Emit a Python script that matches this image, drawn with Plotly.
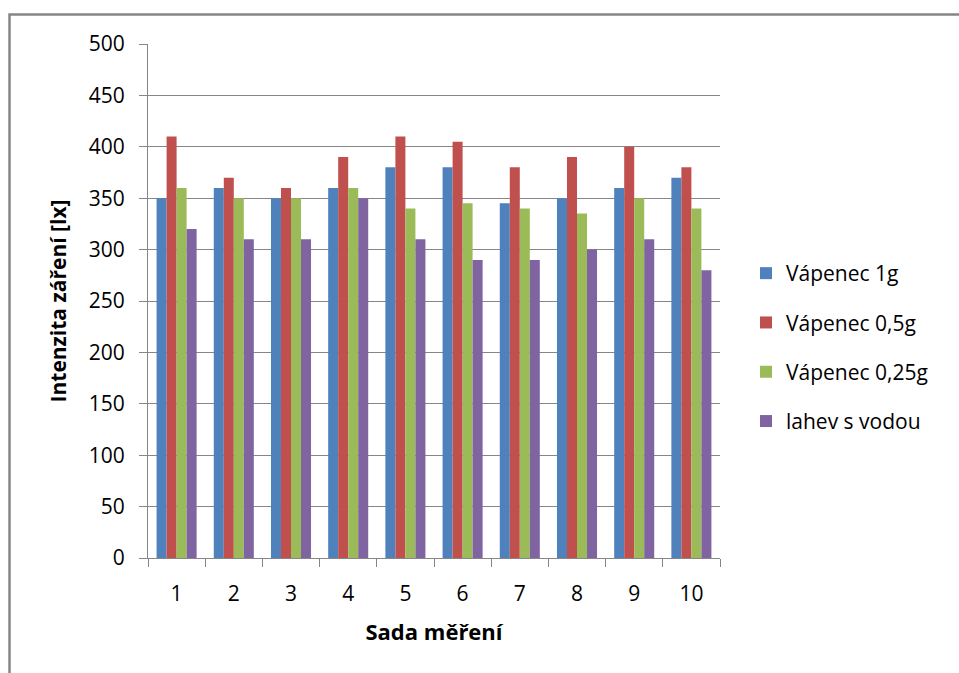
import plotly.graph_objects as go

categories = ["1", "2", "3", "4", "5", "6", "7", "8", "9", "10"]
vapenec_1g = [350, 360, 350, 360, 380, 380, 345, 350, 360, 370]
vapenec_05g = [410, 370, 360, 390, 410, 405, 380, 390, 400, 380]
vapenec_025g = [360, 350, 350, 360, 340, 345, 340, 335, 350, 340]
lahev_s_vodou = [320, 310, 310, 350, 310, 290, 290, 300, 310, 280]

series_names = ["Vápenec 1g", "Vápenec 0,5g", "Vápenec 0,25g", "lahev s vodou"]
series_values = [vapenec_1g, vapenec_05g, vapenec_025g, lahev_s_vodou]
colors = ["#4F81BD", "#C0504D", "#9BBB59", "#8064A2"]

FONT = "Open Sans"
GRID = "#868686"

fig = go.Figure()
for name, vals, col in zip(series_names, series_values, colors):
    fig.add_trace(go.Bar(
        x=categories, y=vals, name=name, legendgroup=name,
        marker=dict(color=col, line=dict(width=0)),
    ))

W, H = 959, 673
L, R, T, B = 148, 720, 44, 558
pw, ph = R - L, B - T

def px_x(x):
    return (x - L) / pw

def px_y(y):
    return (B - y) / ph

fig.update_layout(
    width=W, height=H,
    margin=dict(l=L, r=W - R, t=T, b=H - B, pad=0),
    paper_bgcolor="white", plot_bgcolor="white",
    barmode="group", bargap=0.3, bargroupgap=0,
    font=dict(family=FONT, size=21, color="black"),
    showlegend=True,
    legend=dict(
        x=px_x(746), y=px_y(253), xanchor="left", yanchor="top",
        font=dict(family=FONT, size=21, color="black"),
        tracegroupgap=19, bgcolor="rgba(0,0,0,0)",
    ),
    xaxis=dict(
        type="category", tickson="boundaries",
        ticks="outside", ticklen=8, tickcolor=GRID, tickwidth=1,
        showline=True, linecolor=GRID, linewidth=1,
        showgrid=False, ticklabelstandoff=17,
        tickfont=dict(family=FONT, size=21),
        title=dict(text="<b>Sada měření</b>", font=dict(family=FONT, size=22), standoff=18),
    ),
    yaxis=dict(
        range=[0, 500], tickvals=[0, 50, 100, 150, 200, 250, 300, 350, 400, 450, 500],
        ticks="outside", ticklen=8, tickcolor=GRID, tickwidth=1,
        showline=True, linecolor=GRID, linewidth=1,
        showgrid=True, gridcolor=GRID, gridwidth=1,
        ticklabelstandoff=10, zeroline=False,
        tickfont=dict(family=FONT, size=21),
        title=dict(text="<b>Intenzita záření [lx]</b>", font=dict(family=FONT, size=21), standoff=16),
    ),
    shapes=[dict(
        type="rect", xref="paper", yref="paper",
        x0=px_x(9.5), x1=px_x(985), y0=px_y(700), y1=px_y(14.5),
        line=dict(color="#868686", width=2.5), fillcolor="rgba(0,0,0,0)", layer="below",
    )],
)

fig.write_html(
    "out.html",
    config={"displayModeBar": False},
    post_script="document.body.style.margin='0px';document.body.style.overflow='hidden';",
)
